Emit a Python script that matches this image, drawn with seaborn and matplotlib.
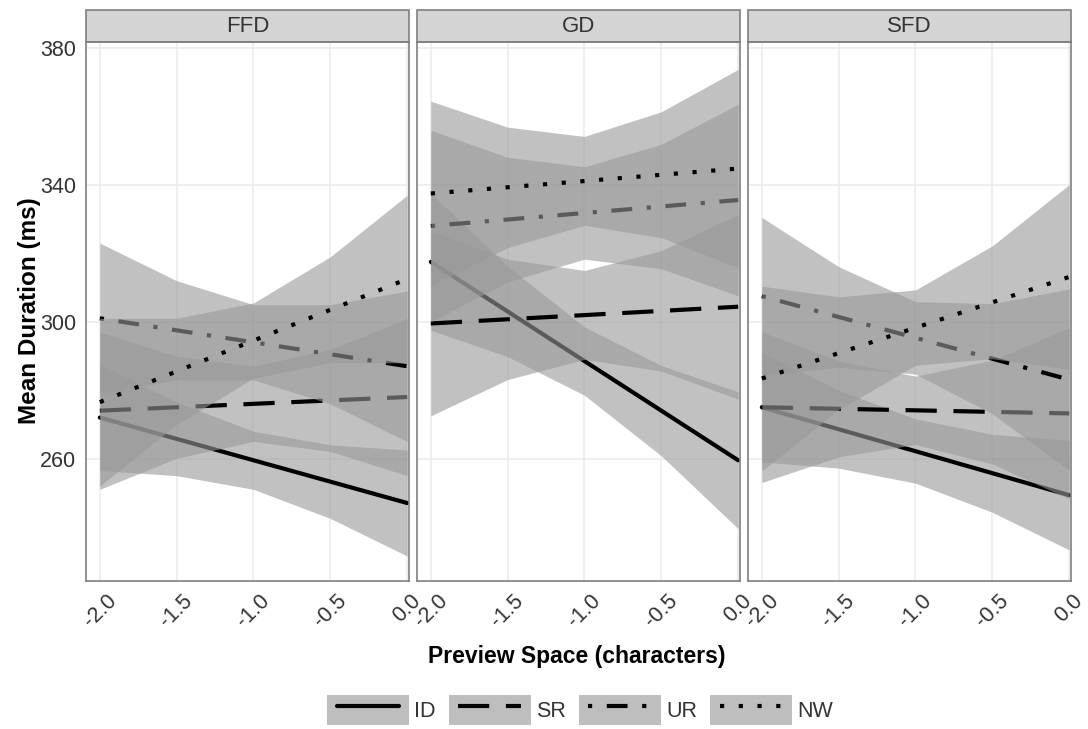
import pandas as pd
import seaborn as sns
import matplotlib.pyplot as plt
from matplotlib.lines import Line2D
from matplotlib.patches import Patch, Rectangle
from matplotlib.legend_handler import HandlerTuple, HandlerLine2D

panels = ["FFD", "GD", "SFD"]
conditions = ["ID", "SR", "UR", "NW"]

line_x = [-2.0, 0.0]
band_x = [-2.0, -1.5, -1.0, -0.5, 0.0]
xtick_vals = [-2.0, -1.5, -1.0, -0.5, 0.0]
xtick_labels = ["-2.0", "-1.5", "-1.0", "-0.5", "0.0"]
ytick_vals = [260, 300, 340, 380]

# fitted lines (start, end) in ms
ffd_line = {"ID": [272, 247], "SR": [274, 278], "UR": [301, 287], "NW": [276.5, 312.5]}
gd_line = {"ID": [317.5, 259.5], "SR": [299.5, 304.4], "UR": [328, 335.6], "NW": [337.5, 344.8]}
sfd_line = {"ID": [275, 249.3], "SR": [275, 273.2], "UR": [307.5, 283.1], "NW": [283.4, 313.1]}

# confidence bands read at band_x
ffd_lower = {"ID": [256.5, 255.0, 251.0, 242.5, 231.5], "SR": [251, 260.1, 265, 262.1, 255],
             "UR": [279, 283, 283, 276, 265], "NW": [252, 270, 283.5, 288, 288]}
ffd_upper = {"ID": [287.5, 276.5, 268.0, 264.0, 262.5], "SR": [297, 289.9, 287, 291.9, 301],
             "UR": [323, 312, 305, 305, 309], "NW": [301, 301, 305.5, 319, 337]}
gd_lower = {"ID": [297.5, 289.8, 278.5, 260.8, 239.5], "SR": [272.5, 283.1, 289, 285.6, 277.4],
            "UR": [300, 311.7, 318.3, 315.5, 307.6], "NW": [310.5, 321.7, 328.2, 324.6, 315.8]}
gd_upper = {"ID": [337.5, 316.2, 298.5, 287.2, 279.5], "SR": [326.5, 318.3, 315, 320.8, 331.4],
            "UR": [356, 348.1, 345.3, 351.9, 363.6], "NW": [364.5, 356.9, 354.2, 361.4, 373.8]}
sfd_lower = {"ID": [259, 257.2, 252.8, 244.3, 233.3], "SR": [253, 260.5, 264.1, 258.4, 248.2],
             "UR": [284.5, 286.7, 284.7, 273.1, 256.6], "NW": [256.4, 274.3, 287.3, 289.2, 286.1]}
sfd_upper = {"ID": [291, 280, 271.6, 267.1, 265.3], "SR": [297, 288.5, 284.1, 288.8, 298.2],
             "UR": [330.5, 316.1, 305.9, 305.3, 309.6], "NW": [310.4, 307.3, 309.3, 322.2, 340.1]}

dash_styles = {"ID": None, "SR": (7.5, 4), "UR": (1, 3.5, 5, 3.5), "NW": (1, 3.5)}

sns.set_style("white")
plt.rcParams["font.family"] = ["Liberation Sans", "DejaVu Sans"]
plt.rcParams["axes.unicode_minus"] = False

W, H = 1088, 729
fig = plt.figure(figsize=(W / 100, H / 100), dpi=100)

band_color = "#999999"
border = "#7F7F7F"
txt = "#333333"
top, bottom = 42, 581
pw = 323

for i, (name, lines, lows, ups) in enumerate(zip(
        panels, [ffd_line, gd_line, sfd_line],
        [ffd_lower, gd_lower, sfd_lower], [ffd_upper, gd_upper, sfd_upper])):
    left = 86 + i * 331
    ax = fig.add_axes([left / W, 1 - bottom / H, pw / W, (bottom - top) / H])
    ax.set_axisbelow(True)
    ax.grid(True, color="#EBEBEB", lw=1.1)

    for k, cond in enumerate(conditions):
        ax.fill_between(band_x, lows[cond], ups[cond], color=band_color,
                        alpha=0.6, lw=0, zorder=3 + 2 * k)
        d = pd.DataFrame({"x": line_x, "y": lines[cond]})
        sns.lineplot(data=d, x="x", y="y", ax=ax, color="black", lw=3.0,
                     errorbar=None, zorder=4 + 2 * k)
        ln = ax.get_lines()[-1]
        if dash_styles[cond] is not None:
            ln.set_dashes(dash_styles[cond])

    ax.set_xlim(-2.09, 0.012)
    ax.set_ylim(224.2, 381.8)
    ax.set(xlabel="", ylabel="")
    ax.set_xticks(xtick_vals)
    ax.set_xticklabels(xtick_labels, rotation=45, ha="center")
    ax.set_yticks(ytick_vals)
    ax.tick_params(axis="both", direction="out", length=5, width=1, color=border,
                   labelsize=15.5, labelcolor=txt, pad=2)
    if i > 0:
        ax.tick_params(axis="y", left=False, labelleft=False)
    for s in ax.spines.values():
        s.set_color(border)
        s.set_linewidth(1.2)
        s.set_zorder(20)

    sh = 32 / (bottom - top)
    ax.add_patch(Rectangle((0, 1), 1, sh, transform=ax.transAxes, clip_on=False,
                           facecolor="#D4D4D4", edgecolor=border, lw=1.2))
    ax.text(0.5, 1 + sh / 2, name, transform=ax.transAxes, ha="center", va="center",
            fontsize=16, color=txt)

fig.text(30 / W, 1 - 311 / H, "Mean Duration (ms)", rotation=90, ha="center",
         va="center", fontsize=17.5, fontweight="bold", color="black")
fig.text(577 / W, 1 - 656 / H, "Preview Space (characters)", ha="center",
         va="center", fontsize=16.5, fontweight="bold", color="black")

handles = []
for cond in conditions:
    ln = Line2D([0], [0], color="black", lw=3.0)
    if dash_styles[cond] is not None:
        ln.set_dashes(dash_styles[cond])
    handles.append((Patch(facecolor="#BEBEBE", edgecolor="none"), ln))

fig.legend(handles, conditions, loc="center", bbox_to_anchor=(580 / W, 1 - 710 / H),
           ncol=4, frameon=False, fontsize=15.5, handlelength=3.8, handleheight=1.75,
           handletextpad=0.25, columnspacing=0.6, borderpad=0, labelcolor=txt,
           handler_map={tuple: HandlerTuple(ndivide=1, pad=0),
                        Line2D: HandlerLine2D(numpoints=2, marker_pad=0.45)})

fig.savefig("out.png", dpi=100)
